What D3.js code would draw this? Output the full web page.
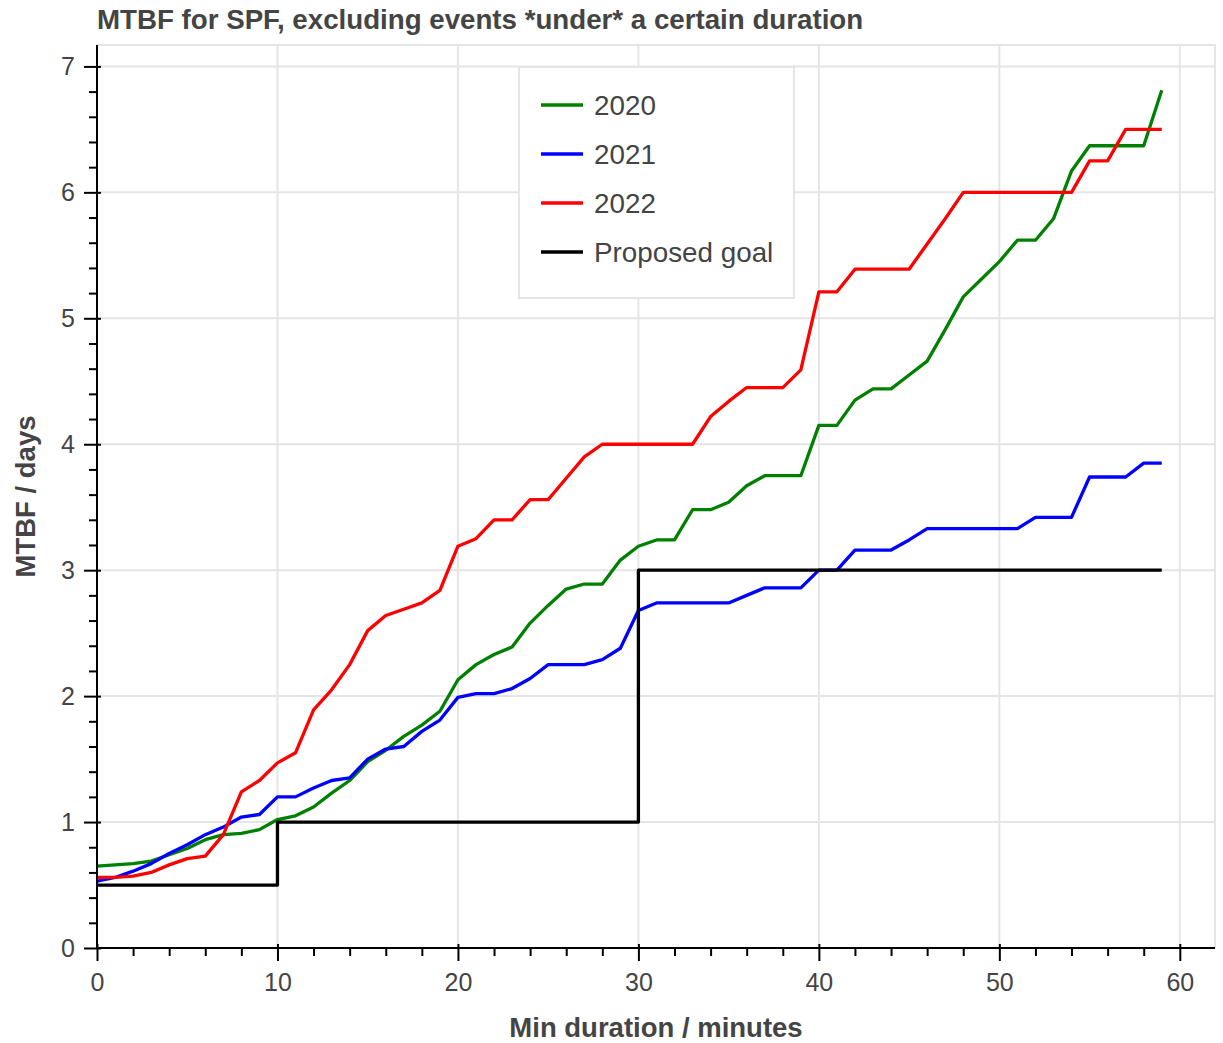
<!DOCTYPE html>
<html lang="en">
<head>
    <meta charset="utf-8"/>
    <style>
        body {
            margin: 0;
            background: #fff;
        }
        svg text {
            font-family: "Liberation Sans", Arial, Helvetica, sans-serif;
            fill: #444;
        }
        .grid line {
            stroke: #e5e5e5;
            stroke-width: 2px;
        }
        .axis path, .axis line {
            stroke: #000;
            stroke-width: 2px;
        }
        .axis text {
            font-size: 25px;
        }
        .series {
            fill: none;
            stroke-width: 3.3px;
            stroke-linejoin: round;
        }
    </style>
    <script src="https://d3js.org/d3.v7.min.js" charset="utf-8"></script>
</head>
<body>
<svg id="chart" width="1223" height="1043"></svg>
<script>
    // values, one per minute
    var minutes = [0, 1, 2, 3, 4, 5, 6, 7, 8, 9, 10, 11, 12, 13, 14, 15, 16, 17, 18, 19,
        20, 21, 22, 23, 24, 25, 26, 27, 28, 29, 30, 31, 32, 33, 34, 35, 36, 37, 38, 39,
        40, 41, 42, 43, 44, 45, 46, 47, 48, 49, 50, 51, 52, 53, 54, 55, 56, 57, 58, 59];

    var mtbf2020 = [0.65, 0.66, 0.67, 0.69, 0.74, 0.79, 0.86, 0.90, 0.91, 0.94,
        1.02, 1.05, 1.12, 1.23, 1.33, 1.48, 1.57, 1.68, 1.77, 1.88,
        2.13, 2.25, 2.33, 2.39, 2.58, 2.72, 2.85, 2.89, 2.89, 3.08,
        3.19, 3.24, 3.24, 3.48, 3.48, 3.54, 3.67, 3.75, 3.75, 3.75,
        4.15, 4.15, 4.35, 4.44, 4.44, 4.55, 4.66, 4.91, 5.17, 5.31,
        5.45, 5.62, 5.62, 5.79, 6.17, 6.37, 6.37, 6.37, 6.37, 6.81];

    var mtbf2021 = [0.53, 0.56, 0.61, 0.67, 0.75, 0.82, 0.90, 0.96, 1.04, 1.06,
        1.20, 1.20, 1.27, 1.33, 1.35, 1.50, 1.58, 1.60, 1.72, 1.81,
        1.99, 2.02, 2.02, 2.06, 2.14, 2.25, 2.25, 2.25, 2.29, 2.38,
        2.68, 2.74, 2.74, 2.74, 2.74, 2.74, 2.80, 2.86, 2.86, 2.86,
        3.00, 3.00, 3.16, 3.16, 3.16, 3.24, 3.33, 3.33, 3.33, 3.33,
        3.33, 3.33, 3.42, 3.42, 3.42, 3.74, 3.74, 3.74, 3.85, 3.85];

    var mtbf2022 = [0.56, 0.56, 0.57, 0.60, 0.66, 0.71, 0.73, 0.90, 1.24, 1.33,
        1.47, 1.55, 1.89, 2.05, 2.25, 2.52, 2.64, 2.69, 2.74, 2.84,
        3.19, 3.25, 3.40, 3.40, 3.56, 3.56, 3.73, 3.90, 4.00, 4.00,
        4.00, 4.00, 4.00, 4.00, 4.22, 4.34, 4.45, 4.45, 4.45, 4.59,
        5.21, 5.21, 5.39, 5.39, 5.39, 5.39, 5.59, 5.79, 6.00, 6.00,
        6.00, 6.00, 6.00, 6.00, 6.00, 6.25, 6.25, 6.50, 6.50, 6.50];

    // proposed goal is a step function
    var goalMinutes = [0, 10, 30, 59];
    var goalValues = [0.5, 1, 3, 3];

    var seriesNames = ['2020', '2021', '2022', 'Proposed goal'];
    var seriesColors = ['green', 'blue', 'red', 'black'];

    var xTicks = [0, 10, 20, 30, 40, 50, 60];
    var yTicks = [0, 1, 2, 3, 4, 5, 6, 7];

    var title = 'MTBF for SPF, excluding events *under* a certain duration';
    var xLabel = 'Min duration / minutes';
    var yLabel = 'MTBF / days';

    (function() {
        var pLeft = 97, pRight = 1215, pTop = 45, pBottom = 948;

        var svg = d3.select('#chart');

        var x = d3.scaleLinear().domain([0, 61.95]).range([pLeft, pRight]);
        var y = d3.scaleLinear().domain([0, 7.17]).range([pBottom, pTop]);

        var xMinor = d3.range(0, 62, 2).filter(function(v) { return v % 10 !== 0; });
        var yMinor = d3.range(0, 7.1, 0.2).map(function(v) { return +v.toFixed(1); })
            .filter(function(v) { return Math.abs(v - Math.round(v)) > 1e-6; });

        // grid
        var grid = svg.append('g').classed('grid', true);
        grid.selectAll('line.v')
            .data(xTicks.filter(function(v) { return v > 0; }))
            .enter().append('line')
            .attr('x1', function(d) { return x(d); })
            .attr('x2', function(d) { return x(d); })
            .attr('y1', pTop).attr('y2', pBottom);
        grid.selectAll('line.h')
            .data(yTicks.filter(function(v) { return v > 0; }))
            .enter().append('line')
            .attr('x1', pLeft).attr('x2', pRight)
            .attr('y1', function(d) { return y(d); })
            .attr('y2', function(d) { return y(d); });
        // outline
        svg.append('rect')
            .attr('x', pLeft).attr('y', pTop)
            .attr('width', pRight - pLeft).attr('height', pBottom - pTop)
            .attr('fill', 'none')
            .attr('stroke', '#e5e5e5')
            .attr('stroke-width', 2);

        // legend box sits under the lines
        var legend = svg.append('g').attr('transform', 'translate(519,67)');
        legend.append('rect')
            .attr('width', 275).attr('height', 231)
            .attr('fill', '#fff').attr('fill-opacity', 0.95)
            .attr('stroke', '#e5e5e5').attr('stroke-width', 2);
        var item = legend.selectAll('g.item')
            .data(seriesNames)
            .enter().append('g')
            .attr('transform', function(d, i) { return 'translate(0,' + (38 + 49 * i) + ')'; });
        item.append('line')
            .attr('x1', 22).attr('x2', 64)
            .attr('stroke', function(d, i) { return seriesColors[i]; })
            .attr('stroke-width', 3.3);
        item.append('text')
            .attr('x', 75).attr('dy', '0.35em')
            .style('font-size', '27.8px')
            .text(function(d) { return d; });

        // lines
        var line = d3.line()
            .x(function(d) { return x(d[0]); })
            .y(function(d) { return y(d[1]); });
        var stepLine = d3.line()
            .curve(d3.curveStepAfter)
            .x(function(d) { return x(d[0]); })
            .y(function(d) { return y(d[1]); });

        [mtbf2020, mtbf2021, mtbf2022].forEach(function(vals, i) {
            svg.append('path')
                .classed('series', true)
                .attr('stroke', seriesColors[i])
                .attr('d', line(d3.zip(minutes, vals)));
        });
        svg.append('path')
            .classed('series', true)
            .attr('stroke', seriesColors[3])
            .attr('stroke-width', 3.5)
            .attr('stroke-linejoin', 'miter')
            .attr('d', stepLine(d3.zip(goalMinutes, goalValues)));

        // axes
        var xAxis = svg.append('g').classed('axis', true)
            .attr('transform', 'translate(0,' + pBottom + ')')
            .call(d3.axisBottom(x).tickValues(xTicks).tickSize(13).tickSizeOuter(0).tickPadding(12));
        xAxis.selectAll('.tick line').attr('y1', -4);
        xAxis.select('.domain').attr('d', 'M' + pLeft + ',0H' + pRight);
        svg.append('g').classed('axis', true)
            .attr('transform', 'translate(0,' + pBottom + ')')
            .call(d3.axisBottom(x).tickValues(xMinor).tickSize(8).tickFormat(''))
            .select('.domain').remove();

        var yAxis = svg.append('g').classed('axis', true)
            .attr('transform', 'translate(' + pLeft + ',0)')
            .call(d3.axisLeft(y).tickValues(yTicks).tickSize(13).tickSizeOuter(0).tickPadding(9));
        yAxis.selectAll('.tick line').attr('x1', 4);
        yAxis.select('.domain').attr('d', 'M0,' + pTop + 'V' + pBottom);
        svg.append('g').classed('axis', true)
            .attr('transform', 'translate(' + pLeft + ',0)')
            .call(d3.axisLeft(y).tickValues(yMinor).tickSize(8).tickFormat(''))
            .select('.domain').remove();
        svg.selectAll('.axis text').attr('fill', '#444');

        // titles
        svg.append('text')
            .attr('x', pLeft).attr('y', 29)
            .style('font-size', '27.7px').style('font-weight', 'bold')
            .text(title);
        svg.append('text')
            .attr('x', (pLeft + pRight) / 2).attr('y', 1037)
            .attr('text-anchor', 'middle')
            .style('font-size', '27.5px').style('font-weight', 'bold')
            .text(xLabel);
        svg.append('text')
            .attr('transform', 'translate(35,' + ((pTop + pBottom) / 2) + ') rotate(-90)')
            .attr('text-anchor', 'middle')
            .style('font-size', '27.5px').style('font-weight', 'bold')
            .text(yLabel);
    })();
</script>
</body>
</html>
